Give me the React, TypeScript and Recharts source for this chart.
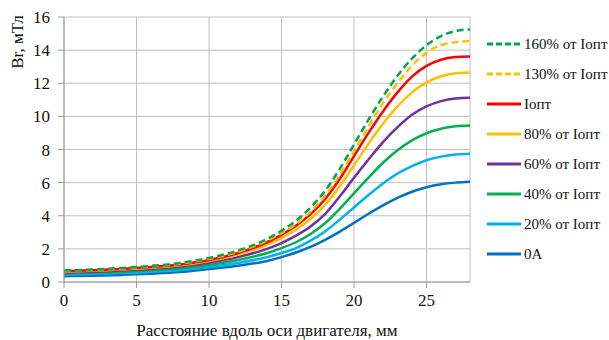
import { LineChart, Line, XAxis, YAxis, CartesianGrid, Legend } from 'recharts';

// distance along the motor axis, mm
const distance = [0, 2, 4, 6, 8, 10, 12, 14, 15, 16, 17, 18, 19, 20, 21, 22, 23, 24, 25, 26, 27, 28];

// Br, mT for each coil current
const b160 = [0.7, 0.75, 0.85, 0.97, 1.15, 1.45, 1.9, 2.6, 3.1, 3.7, 4.5, 5.5, 6.8, 8.3, 9.8, 11.2, 12.45, 13.5, 14.3, 14.85, 15.15, 15.25];
const b130 = [0.68, 0.73, 0.82, 0.94, 1.1, 1.4, 1.82, 2.5, 2.95, 3.5, 4.25, 5.2, 6.45, 7.9, 9.4, 10.8, 12.0, 13.05, 13.85, 14.3, 14.48, 14.55];
const bOpt = [0.66, 0.71, 0.79, 0.9, 1.06, 1.33, 1.75, 2.4, 2.85, 3.4, 4.1, 5.0, 6.2, 7.6, 9.0, 10.3, 11.45, 12.4, 13.05, 13.42, 13.58, 13.62];
const b80 = [0.63, 0.68, 0.76, 0.86, 1.01, 1.27, 1.66, 2.25, 2.65, 3.15, 3.8, 4.65, 5.75, 7.05, 8.35, 9.55, 10.6, 11.45, 12.05, 12.42, 12.6, 12.65];
const b60 = [0.58, 0.62, 0.7, 0.79, 0.93, 1.16, 1.5, 2.0, 2.35, 2.8, 3.35, 4.1, 5.15, 6.3, 7.4, 8.45, 9.35, 10.1, 10.6, 10.92, 11.08, 11.12];
const b40 = [0.52, 0.56, 0.62, 0.71, 0.83, 1.03, 1.33, 1.75, 2.05, 2.4, 2.9, 3.55, 4.4, 5.35, 6.3, 7.2, 7.95, 8.55, 8.98, 9.25, 9.4, 9.45];
const b20 = [0.45, 0.48, 0.54, 0.61, 0.72, 0.9, 1.15, 1.5, 1.75, 2.05, 2.5, 3.05, 3.75, 4.5, 5.25, 5.95, 6.55, 7.0, 7.35, 7.57, 7.7, 7.75];
const b0 = [0.35, 0.38, 0.43, 0.5, 0.6, 0.78, 0.98, 1.27, 1.5, 1.78, 2.12, 2.55, 3.03, 3.57, 4.12, 4.63, 5.08, 5.45, 5.72, 5.9, 6.0, 6.05];

const xTicks = [0, 5, 10, 15, 20, 25];
const yTicks = [0, 2, 4, 6, 8, 10, 12, 14, 16];

const series = [
  { key: 's160', name: '160% от Iопт', values: b160, color: '#00A650', dashed: true },
  { key: 's130', name: '130% от Iопт', values: b130, color: '#FFC000', dashed: true },
  { key: 'sOpt', name: 'Iопт', values: bOpt, color: '#FF0000', dashed: false },
  { key: 's80', name: '80% от Iопт', values: b80, color: '#FFC000', dashed: false },
  { key: 's60', name: '60% от Iопт', values: b60, color: '#7030A0', dashed: false },
  { key: 's40', name: '40% от Iопт', values: b40, color: '#00B050', dashed: false },
  { key: 's20', name: '20% от Iопт', values: b20, color: '#00B0F0', dashed: false },
  { key: 's0', name: '0A', values: b0, color: '#0070C0', dashed: false },
];

const data = distance.map((x, i) => {
  const row: any = { x };
  series.forEach((s) => { row[s.key] = s.values[i]; });
  return row;
});

const font = "'Times New Roman', 'Liberation Serif', 'DejaVu Serif', 'Noto Serif', serif";

function LegendBox() {
  return (
    <div style={{ fontFamily: font, fontSize: 15, color: '#111' }}>
      {series.map((s) => (
        <div key={s.key} style={{ display: 'flex', alignItems: 'center', height: 30 }}>
          <svg width={36} height={6} style={{ marginRight: 2 }}>
            <line x1={1} y1={3} x2={35} y2={3} stroke={s.color} strokeWidth={3}
              strokeDasharray={s.dashed ? '6 3' : undefined} />
          </svg>
          <span>{s.name}</span>
        </div>
      ))}
    </div>
  );
}

export default function App() {
  return (
    <div style={{ position: 'absolute', left: 0, top: 0, width: 609, height: 340, background: '#fff', fontFamily: font }}>
      <LineChart width={609} height={340} data={data} margin={{ top: 17, right: 16, bottom: 0, left: 0 }} style={{ fontFamily: font }}>
        <CartesianGrid stroke="#BFBFBF" strokeWidth={1} />
        <XAxis
          type="number"
          dataKey="x"
          domain={[0, 28]}
          ticks={xTicks}
          height={58}
          stroke="#9a9a9a"
          tickSize={6}
          tickMargin={6}
          tick={{ fill: '#111', fontSize: 17, fontFamily: font }}
          label={{ value: 'Расстояние вдоль оси двигателя, мм', position: 'insideBottom', offset: 4, fill: '#111', fontSize: 17, fontFamily: font }}
        />
        <YAxis
          type="number"
          domain={[0, 16]}
          ticks={yTicks}
          width={64}
          stroke="#9a9a9a"
          tickSize={6}
          tickMargin={8}
          tick={{ fill: '#111', fontSize: 17, fontFamily: font }}
          label={{
            content: () => (
              <text x={23} y={42} transform="rotate(-90 23 42)" textAnchor="middle" fill="#111" fontSize={17} fontFamily={font}>
                Br, мТл
              </text>
            ),
          }}
        />
        <Legend
          layout="vertical"
          verticalAlign="top"
          align="right"
          content={() => <LegendBox />}
          wrapperStyle={{ left: 486, top: 29, width: 123 }}
        />
        {series.slice().reverse().map((s) => (
          <Line
            key={s.key}
            type="monotone"
            dataKey={s.key}
            name={s.name}
            stroke={s.color}
            strokeWidth={2.5}
            strokeDasharray={s.dashed ? '7 4' : undefined}
            dot={false}
            activeDot={false}
            isAnimationActive={false}
          />
        ))}
      </LineChart>
    </div>
  );
}
